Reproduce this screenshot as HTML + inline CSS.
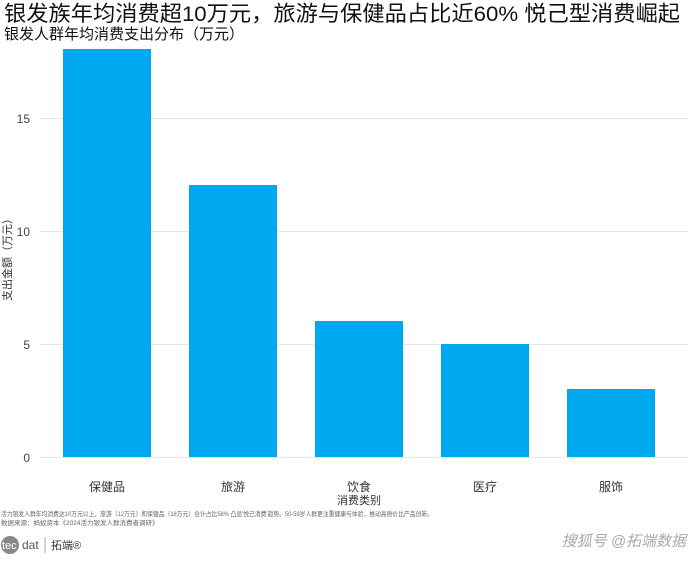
<!DOCTYPE html>
<html><head><meta charset="utf-8"><style>
body{margin:0;width:690px;height:557px;background:#fff;overflow:hidden;font-family:"Liberation Sans","Noto Sans CJK SC",sans-serif;}
</style></head><body>
<svg width="690" height="557" xmlns="http://www.w3.org/2000/svg" font-family="Liberation Sans, Noto Sans CJK SC, sans-serif">
<text x="4" y="21" font-size="21.5" fill="#111" textLength="676" lengthAdjust="spacingAndGlyphs">银发族年均消费超10万元，旅游与保健品占比近60%  悦己型消费崛起</text>
<text x="4" y="39" font-size="15" fill="#111">银发人群年均消费支出分布（万元）</text>
<g stroke="#e6e6e6" stroke-width="1">
<line x1="40" x2="688" y1="457.5" y2="457.5"/>
<line x1="40" x2="688" y1="344.5" y2="344.5"/>
<line x1="40" x2="688" y1="231.5" y2="231.5"/>
<line x1="40" x2="688" y1="118.5" y2="118.5"/>
</g>
<g font-size="12" fill="#444" text-anchor="end">
<text x="30" y="462">0</text><text x="30" y="349">5</text><text x="30" y="236">10</text><text x="30" y="123">15</text>
</g>
<g fill="#00a8f0">
<rect x="63" y="49" width="88" height="408"/>
<rect x="189" y="185" width="88" height="272"/>
<rect x="315" y="321" width="88" height="136"/>
<rect x="441" y="344" width="88" height="113"/>
<rect x="567" y="389" width="88" height="68"/>
</g>
<g font-size="12" fill="#333" text-anchor="middle">
<text x="107" y="491">保健品</text><text x="233" y="491">旅游</text><text x="359" y="491">饮食</text><text x="485" y="491">医疗</text><text x="611" y="491">服饰</text>
<text x="359" y="504" font-size="11">消费类别</text>
</g>
<text transform="translate(11,257) rotate(-90)" font-size="11" fill="#333" text-anchor="middle">支出金额（万元）</text>
<text x="1" y="516" font-size="6.5" fill="#666" textLength="432" lengthAdjust="spacingAndGlyphs">活力银发人群年均消费达10万元以上，旅游（12万元）和保健品（18万元）合计占比58% 凸显'悦己消费'趋势。50-59岁人群更注重健康与体验，推动高质价比产品创新。</text>
<text x="1" y="525" font-size="6.5" fill="#666">数据来源：蚂蚁资本《2024活力银发人群消费者调研》</text>
<circle cx="10" cy="545" r="9" fill="#888"/>
<text x="2" y="549" font-size="11" fill="#fff">tec</text>
<text x="22" y="549" font-size="12" fill="#555">dat</text>
<line x1="45" x2="45" y1="537" y2="553" stroke="#aaa"/>
<text x="51" y="549" font-size="11" fill="#333">拓端®</text>
<text x="686" y="546" font-size="15" fill="#aaa" text-anchor="end" font-style="italic">搜狐号 @拓端数据</text>
</svg>
</body></html>
